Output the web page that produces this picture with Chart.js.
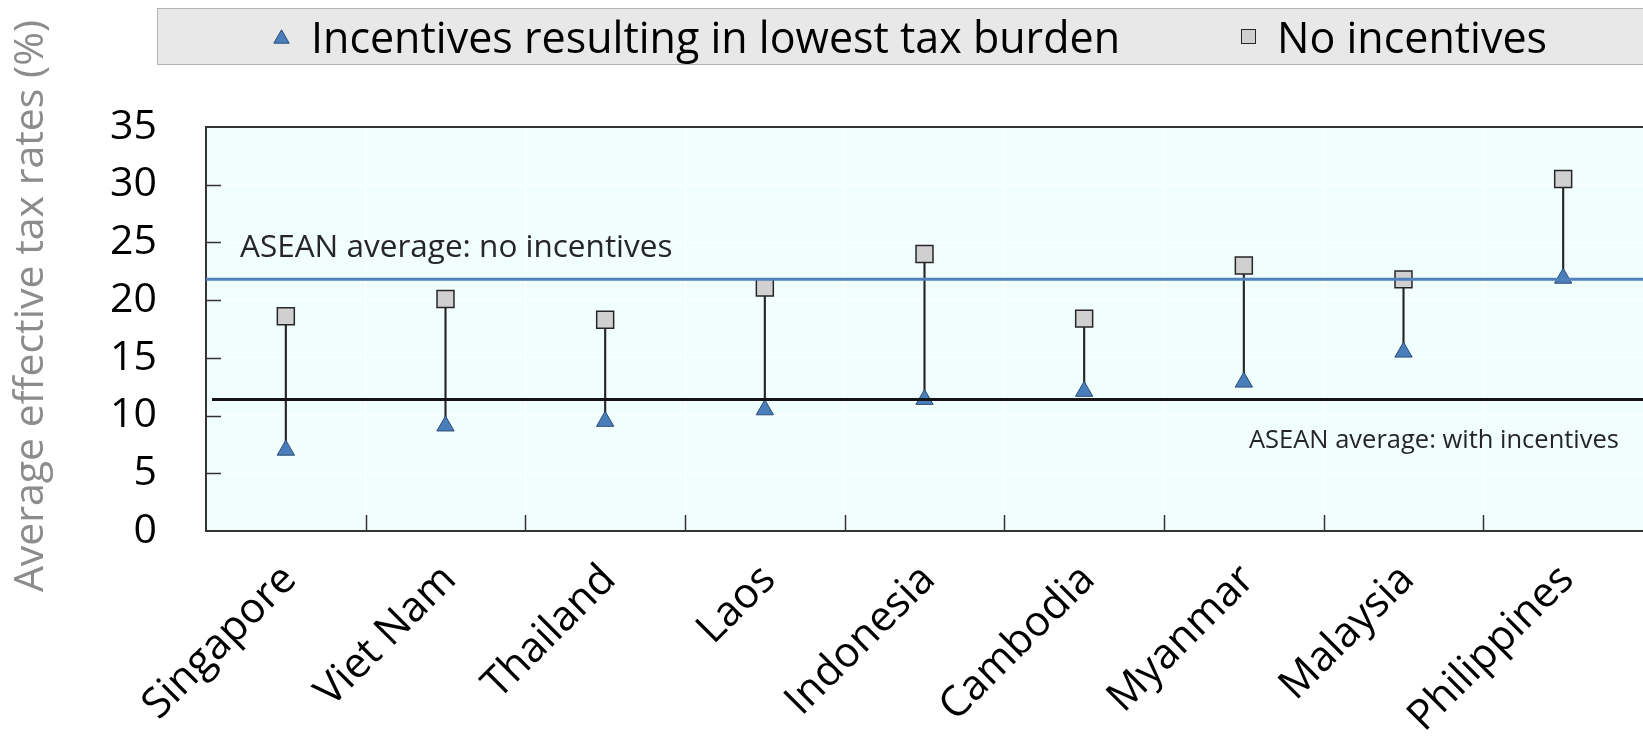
<!DOCTYPE html>
<html>
<head>
<meta charset="utf-8">
<title>ASEAN effective tax rates</title>
<script src="https://cdn.jsdelivr.net/npm/chart.js@4.4.1/dist/chart.umd.min.js"></script>
<style>
  html, body { margin: 0; padding: 0; background: #fff; }
  #wrap { position: relative; width: 1643px; height: 736px; overflow: hidden; }
  #legend {
    position: absolute; left: 157px; top: 8px; width: 1520px; height: 57px;
    box-sizing: border-box; background: #e8e8e8;
    border: 1px solid #b4b4b4;
    display: flex; align-items: center; gap: 121px; padding-left: 115px;
    font-family: 'Open Sans', sans-serif; font-size: 43px; color: #000;
    white-space: nowrap;
  }
  #legend .item { display: flex; align-items: center; gap: 21px; }
  #legend .rect { display: inline-block; width: 13px; height: 13px; border: 1.5px solid #262626; }
  #legend svg { display: block; }
</style>
</head>
<body>
<div id="wrap">
  <canvas id="rateChart" width="1643" height="736"></canvas>
  <div id="legend"></div>
</div>
<script>
/* 东盟平均有效税率 - 有/无优惠 */

const countries = ['Singapore', 'Viet Nam', 'Thailand', 'Laos', 'Indonesia',
                   'Cambodia', 'Myanmar', 'Malaysia', 'Philippines'];
const withIncentives = [7.0, 9.1, 9.5, 10.5, 11.4, 12.1, 12.9, 15.5, 21.9];
const noIncentives   = [18.6, 20.1, 18.3, 21.1, 24.0, 18.4, 23.0, 21.8, 30.5];
const aseanAvgNoInc   = 21.8;
const aseanAvgWithInc = 11.4;
const yMin = 0, yMax = 35, yStep = 5;

Chart.defaults.font.family = "'Open Sans', sans-serif";

// 背景 + 上边框 + 内侧刻度
const plotFrame = {
  id: 'plotFrame',
  beforeDraw(chart) {
    const { ctx, chartArea: a } = chart;
    ctx.save();
    ctx.fillStyle = '#f1fefe';
    ctx.fillRect(a.left, a.top, a.right - a.left, a.bottom - a.top);
    ctx.restore();
  },
  afterDraw(chart) {
    const { ctx, chartArea: a } = chart;
    const xs = chart.scales.x, ys = chart.scales.y;
    ctx.save();
    ctx.strokeStyle = '#333';
    ctx.lineWidth = 2;
    ctx.beginPath();
    ctx.moveTo(a.left, a.top); ctx.lineTo(a.right, a.top);
    ctx.stroke();
    ctx.lineWidth = 1.5;
    ctx.beginPath();
    for (let v = yMin + yStep; v < yMax; v += yStep) {
      const y = Math.round(ys.getPixelForValue(v)) + 0.5;
      ctx.moveTo(a.left, y); ctx.lineTo(a.left + 15, y);
    }
    for (let i = 1; i < countries.length; i++) {
      const x = Math.round(xs.getPixelForValue(i - 0.5)) + 0.5;
      ctx.moveTo(x, a.bottom); ctx.lineTo(x, a.bottom - 16);
    }
    ctx.stroke();
    ctx.restore();
  }
};

// 东盟平均线及标注
const avgLines = {
  id: 'avgLines',
  afterDatasetsDraw(chart) {
    const { ctx, chartArea: a } = chart;
    const ys = chart.scales.y;
    const yNo = ys.getPixelForValue(aseanAvgNoInc);
    const yWith = ys.getPixelForValue(aseanAvgWithInc);
    ctx.save();
    ctx.lineWidth = 3;
    ctx.strokeStyle = '#4f81bd';
    ctx.beginPath(); ctx.moveTo(a.left, yNo); ctx.lineTo(a.right, yNo); ctx.stroke();
    ctx.strokeStyle = '#141414';
    ctx.beginPath(); ctx.moveTo(a.left + 6, yWith); ctx.lineTo(a.right, yWith); ctx.stroke();

    ctx.fillStyle = '#262626';
    ctx.textBaseline = 'alphabetic';
    ctx.font = "31.5px 'Open Sans', sans-serif";
    ctx.textAlign = 'left';
    ctx.fillText('ASEAN average: no incentives', a.left + 34, yNo - 22);
    ctx.font = "25.5px 'Open Sans', sans-serif";
    ctx.textAlign = 'right';
    ctx.fillText('ASEAN average: with incentives', a.right - 24, yWith + 49);
    ctx.restore();
  }
};

// Y 轴标题（位置比坐标轴中心略高）
const yTitle = {
  id: 'yTitle',
  afterDraw(chart, args, opts) {
    const ctx = chart.ctx;
    ctx.save();
    ctx.translate(opts.x, opts.y);
    ctx.rotate(-Math.PI / 2);
    ctx.fillStyle = '#8c8c8c';
    ctx.font = opts.size + "px 'Open Sans', sans-serif";
    ctx.textAlign = 'center';
    ctx.textBaseline = 'middle';
    ctx.fillText(opts.text, 0, 0);
    ctx.restore();
  }
};

// HTML 图例（灰底框）
const htmlLegend = {
  id: 'htmlLegend',
  afterUpdate(chart) {
    const box = document.getElementById('legend');
    box.innerHTML = '';
    const items = chart.options.plugins.legend.labels.generateLabels(chart)
      .filter(it => chart.data.datasets[it.datasetIndex].type !== 'bar');
    items.forEach(it => {
      const ds = chart.data.datasets[it.datasetIndex];
      const li = document.createElement('div');
      li.className = 'item';
      let mk;
      if (ds.pointStyle === 'triangle') {
        mk = document.createElementNS('http://www.w3.org/2000/svg', 'svg');
        mk.setAttribute('width', '17');
        mk.setAttribute('height', '15');
        mk.innerHTML = '<polygon points="8.5,0.8 16.2,14.2 0.8,14.2" fill="' + ds.backgroundColor +
          '" stroke="' + ds.borderColor + '" stroke-width="1"/>';
      } else {
        mk = document.createElement('span');
        mk.className = 'rect';
        mk.style.background = ds.backgroundColor;
      }
      const tx = document.createElement('span');
      tx.textContent = it.text;
      li.append(mk, tx);
      box.append(li);
    });
  }
};

new Chart(document.getElementById('rateChart'), {
  type: 'line',
  data: {
    labels: countries,
    datasets: [
      {
        label: 'Incentives resulting in lowest tax burden',
        data: withIncentives,
        showLine: false,
        pointStyle: 'triangle',
        pointRadius: 10,
        backgroundColor: '#4a7ebb',
        borderColor: '#2c4d75',
        borderWidth: 1
      },
      {
        label: 'No incentives',
        data: noIncentives,
        showLine: false,
        pointStyle: 'rect',
        pointRadius: 12,
        backgroundColor: '#d0d0d0',
        borderColor: '#262626',
        borderWidth: 1.5
      },
      {
        type: 'bar',
        label: 'range',
        data: withIncentives.map((v, i) => [v, noIncentives[i]]),
        backgroundColor: '#262626',
        barThickness: 1.5
      }
    ]
  },
  plugins: [plotFrame, avgLines, yTitle, htmlLegend],
  options: {
    responsive: false,
    animation: false,
    layout: { autoPadding: false, padding: { top: 127, left: 0, right: -3, bottom: 0 } },
    plugins: {
      legend: { display: false },
      tooltip: { enabled: false },
      yTitle: { text: 'Average effective tax rates (%)', x: 31, y: 306, size: 41 }
    },
    scales: {
      x: {
        offset: true,
        afterFit: s => { s.height = 205; },
        grid: { offset: true, color: 'rgba(255,255,255,0.9)', drawTicks: false },
        border: { color: '#333', width: 2 },
        ticks: {
          color: '#000',
          font: { size: 42 },
          minRotation: 45, maxRotation: 45,
          autoSkip: false,
          labelOffset: 4,
          padding: 24
        }
      },
      y: {
        min: yMin, max: yMax,
        afterFit: s => { s.width = 206; },
        grid: { color: 'rgba(255,255,255,0.7)', drawTicks: false },
        border: { color: '#333', width: 2 },
        ticks: {
          stepSize: yStep,
          color: '#000',
          font: { size: 41 },
          padding: 49
        }
      }
    }
  }
});
</script>
</body>
</html>
